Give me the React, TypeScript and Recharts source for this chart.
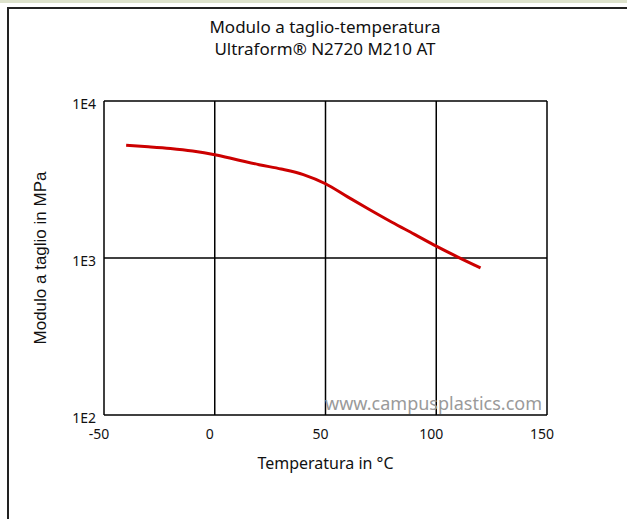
import React from "react";
import {
  LineChart,
  Line,
  XAxis,
  YAxis,
  CartesianGrid,
  Label,
} from "recharts";

// temperature (°C) and shear modulus (MPa)
const temps = [-40, -30, -20, -10, 0, 10, 20, 30, 40, 50, 60, 70, 80, 90, 100, 110, 120];
const modulus = [5220, 5110, 4980, 4800, 4550, 4230, 3930, 3690, 3400, 2970, 2450, 2030, 1690, 1420, 1190, 1010, 865];

const xTicks = [-50, 0, 50, 100, 150];
const yTicks = [100, 1000, 10000];
const yTickLabels = ["1E2", "1E3", "1E4"];

const data = temps.map((t, i) => ({ t, g: modulus[i] }));

const font = "'Noto Sans', sans-serif";

export default function App() {
  return (
    <div style={{ position: "absolute", left: 0, top: 0, width: 627, height: 519, background: "#fff", overflow: "hidden" }}>
      <div style={{ position: "absolute", left: 0, top: 0, width: 627, height: 3, background: "#dde2cc" }} />
      <div
        style={{
          position: "absolute",
          left: 7,
          top: 7,
          width: 640,
          height: 540,
          borderLeft: "2px solid #222",
          borderTop: "2px solid #222",
        }}
      />
      <div
        style={{
          position: "absolute",
          left: 0,
          top: 16,
          width: 650,
          textAlign: "center",
          fontFamily: font,
          fontSize: 17,
          lineHeight: "22px",
          color: "#111",
        }}
      >
        <div>Modulo a taglio-temperatura</div>
        <div>Ultraform® N2720 M210 AT</div>
      </div>
      <div style={{ position: "absolute", left: 0, top: 0 }}>
        <LineChart
          width={627}
          height={519}
          data={data}
          margin={{ top: 101, right: 80, bottom: 44, left: 44 }}
        >
          <CartesianGrid stroke="#000" strokeWidth={1.5} />
          <XAxis
            dataKey="t"
            type="number"
            domain={[-50, 150]}
            ticks={xTicks}
            height={60}
            axisLine={false}
            tickLine={false}
            tick={{ fill: "#111", fontSize: 14, fontFamily: font, dx: -5, dy: 6 }}
            interval={0}
          >
            <Label
              value="Temperatura in °C"
              position="insideBottom"
              offset={6}
              style={{ fill: "#111", fontSize: 16, fontFamily: font }}
            />
          </XAxis>
          <YAxis
            dataKey="g"
            scale="log"
            domain={[100, 10000]}
            ticks={yTicks}
            allowDataOverflow
            width={60}
            axisLine={false}
            tickLine={false}
            tickFormatter={(v: number) => yTickLabels[yTicks.indexOf(v)] ?? String(v)}
            tick={{ fill: "#111", fontSize: 14, fontFamily: font, dy: 3 }}
            interval={0}
          >
            <Label
              value="Modulo a taglio in MPa"
              angle={-90}
              position="insideLeft"
              offset={-4}
              style={{ textAnchor: "middle", fill: "#111", fontSize: 17, fontFamily: "'Liberation Sans', Arial, sans-serif" }}
            />
          </YAxis>
          <Line
            type="monotone"
            dataKey="g"
            stroke="#cc0000"
            strokeWidth={3}
            dot={false}
            isAnimationActive={false}
          />
          <text
            x={542}
            y={410}
            textAnchor="end"
            fill="#9a9a9a"
            fontSize={18}
            fontFamily={font}
          >
            www.campusplastics.com
          </text>
        </LineChart>
      </div>
    </div>
  );
}
